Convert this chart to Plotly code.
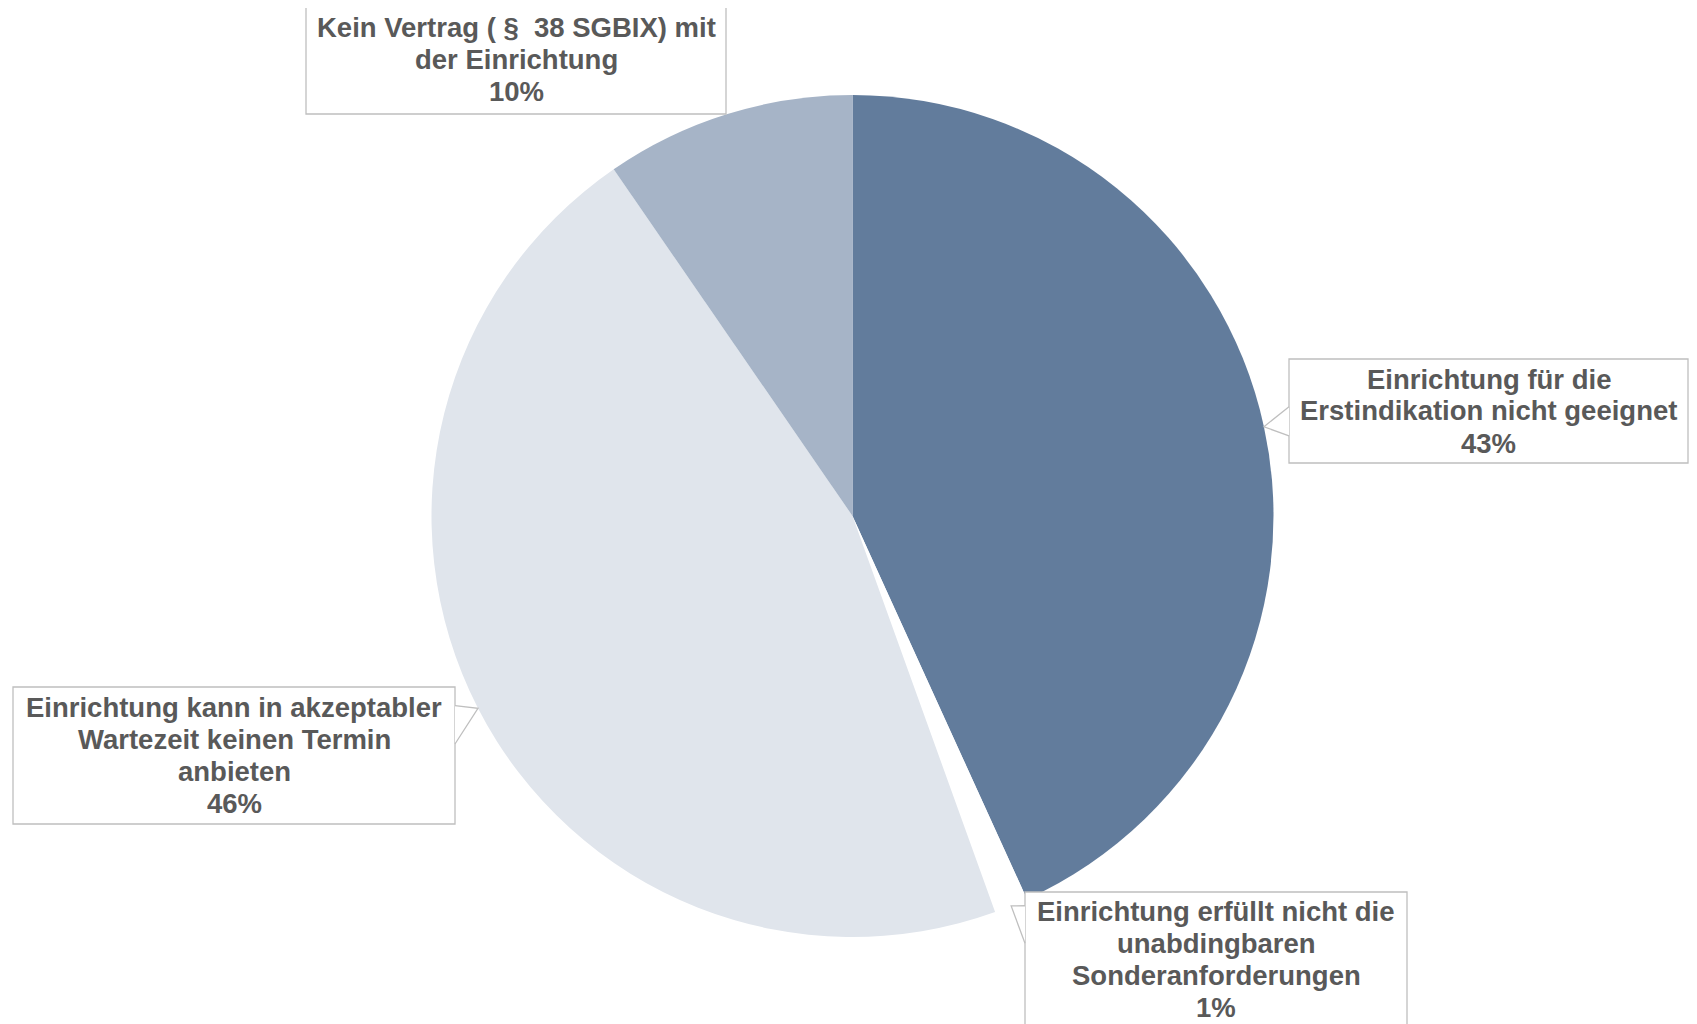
import plotly.graph_objects as go
import math

# ---- data ----
categories = [
    ["Einrichtung für die", "Erstindikation nicht geeignet"],
    ["Einrichtung erfüllt nicht die", "unabdingbaren", "Sonderanforderungen"],
    ["Einrichtung kann in akzeptabler", "Wartezeit keinen Termin", "anbieten"],
    ["Kein Vertrag ( §\u00a0 38 SGBIX) mit", "der Einrichtung"],
]
values = [43.2, 1.3, 45.9, 9.6]
colors = ["#627C9C", "#FFFFFF", "#E0E5EC", "#A6B4C7"]

# ---- layout geometry (screen pixels) ----
OFF = 8                      # page body margin
W, H = 1697 - OFF, 1024 - OFF
cx, cy, R = 852.5, 516.0, 421.0
# label boxes: (left, top, right, bottom) in screen pixels
boxes = [
    (1289, 359, 1688, 463),
    (1025, 892, 1407, 1026),
    (13, 687, 455, 824),
    (306, 5, 726, 114),
]
LINE = 32.0
FONT = dict(family="Liberation Sans, Arial, sans-serif", size=27.5, color="#595959")
BORDER = "#BFBFBF"


def px(x):
    return (x - OFF) / W


def py(y):
    return 1 - (y - OFF) / H


fig = go.Figure()
fig.add_trace(go.Pie(
    labels=[" ".join(c) for c in categories],
    values=values,
    sort=False,
    direction="clockwise",
    rotation=0,
    marker=dict(colors=colors, line=dict(width=0)),
    textinfo="none",
    showlegend=False,
    domain=dict(x=[px(cx - R), px(cx + R)], y=[py(cy + R), py(cy - R)]),
))

total = sum(values)
cum = 0.0
shapes = []
annotations = []
for lines, v, (l, t, r, b) in zip(categories, values, boxes):
    ang = math.radians(360.0 * (cum + v / 2) / total)
    cum += v
    tx = cx + R * math.sin(ang)
    ty = cy - R * math.cos(ang)
    # box
    shapes.append(dict(type="rect", xref="paper", yref="paper",
                       x0=px(l), x1=px(r), y0=py(b), y1=py(t),
                       fillcolor="white", line=dict(color=BORDER, width=1.3), layer="above"))
    # pointer wedge
    inside = (l - 3 <= tx <= r + 3) and (t - 3 <= ty <= b + 3)
    if not inside:
        hw = 0.14 * (b - t)
        if tx < l or tx > r:
            sx = l if tx < l else r
            bc = ty + 0.35 * ((t + b) / 2 - ty)
            bc = min(max(bc, t + hw + 2), b - hw - 2)
            p1, p2 = (sx, bc - hw), (sx, bc + hw)
        else:
            sy = t if ty < t else b
            bc = tx + 0.35 * ((l + r) / 2 - tx)
            bc = min(max(bc, l + hw + 2), r - hw - 2)
            p1, p2 = (bc - hw, sy), (bc + hw, sy)

        def P(p):
            return f"{px(p[0]):.5f},{py(p[1]):.5f}"
        shapes.append(dict(type="path", xref="paper", yref="paper",
                           path=f"M {P(p1)} L {P((tx, ty))} L {P(p2)} Z",
                           fillcolor="white", line=dict(width=0), layer="above"))
        shapes.append(dict(type="path", xref="paper", yref="paper",
                           path=f"M {P(p1)} L {P((tx, ty))} L {P(p2)}",
                           fillcolor="rgba(0,0,0,0)", line=dict(color=BORDER, width=1.3), layer="above"))
    pct = round(v / total * 100)
    all_lines = lines + [f"{pct}%"]
    n = len(all_lines)
    ccx, ccy = (l + r) / 2, (t + b) / 2
    for i, txt in enumerate(all_lines):
        yy = ccy + (i - (n - 1) / 2) * LINE
        annotations.append(dict(
            xref="paper", yref="paper", x=px(ccx), y=py(yy),
            xanchor="center", yanchor="middle",
            text=f"<b>{txt}</b>", showarrow=False, font=FONT,
        ))

fig.update_layout(
    width=W, height=H,
    margin=dict(l=0, r=0, t=0, b=0),
    paper_bgcolor="white", plot_bgcolor="white",
    shapes=shapes, annotations=annotations,
)
fig.write_html("out.html")
